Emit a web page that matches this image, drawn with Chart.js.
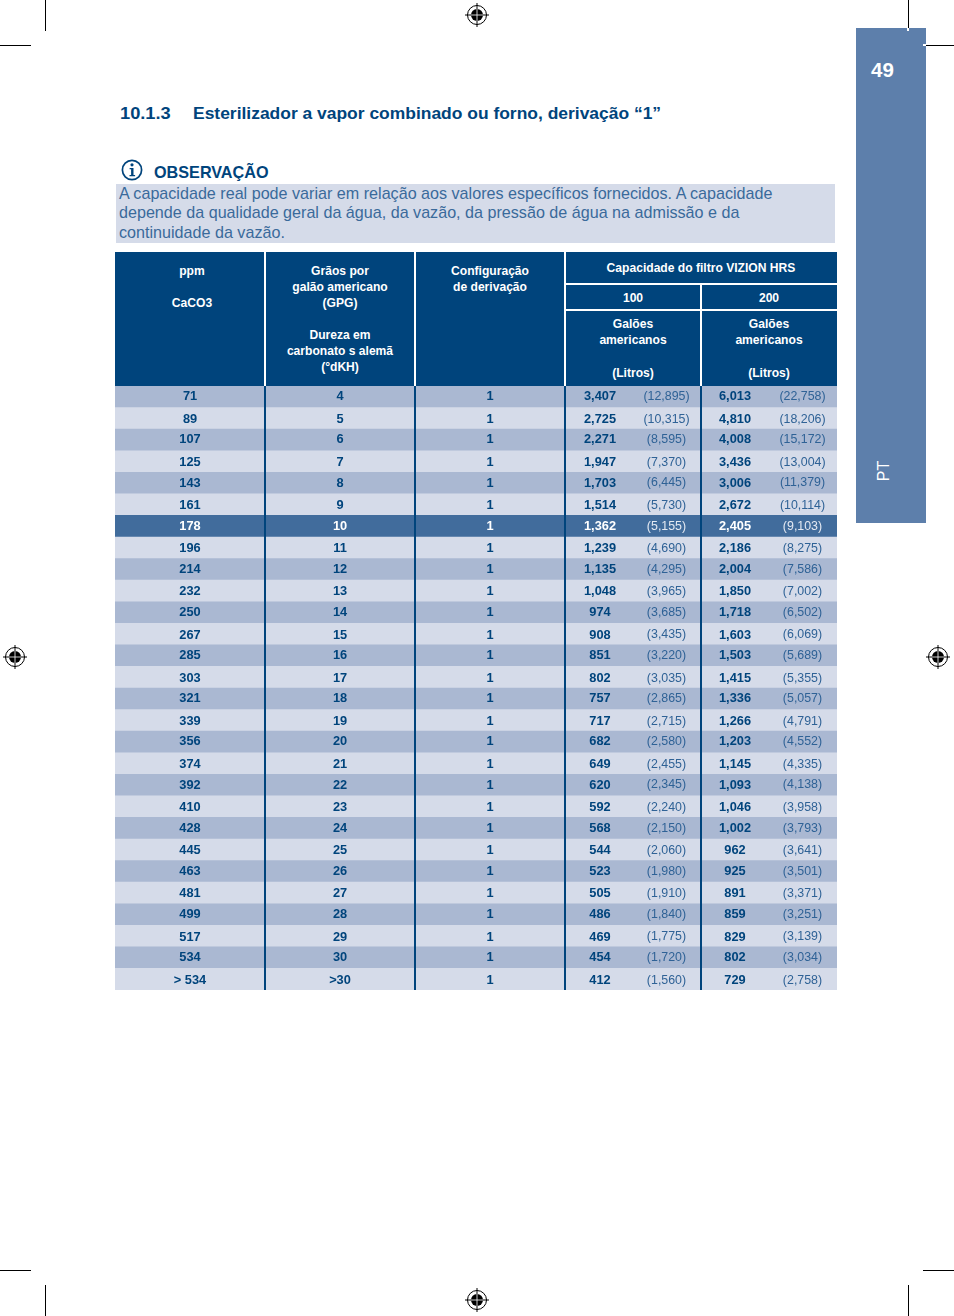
<!DOCTYPE html>
<html lang="pt"><head><meta charset="utf-8">
<script src="https://cdn.jsdelivr.net/npm/chart.js@4"></script>
<style>
html,body{margin:0;padding:0;background:#fff}
body{width:954px;height:1316px;position:relative;overflow:hidden;font-family:"Liberation Sans",Arial,sans-serif}
.a{position:absolute}
.t{position:absolute;white-space:nowrap;line-height:16px}
.h{color:#fff;font-weight:bold;font-size:12.1px;transform:translate(-50%,-50%);margin-top:.7px}
.k{position:absolute;background:#000}
canvas{position:absolute;left:115px;top:386px}
</style></head><body>
<div class="a" style="left:856px;top:28px;width:70px;height:495px;background:#5d7fab"></div>
<div class="a" style="left:907px;top:28px;width:2px;height:3px;background:#fff"></div>
<div class="a" style="left:923px;top:44px;width:3px;height:2px;background:#fff"></div>
<div class="t" style="left:871px;top:60px;line-height:20px;color:#fff;font-weight:bold;font-size:20.5px">49</div>
<div class="t" style="left:884px;top:471px;color:#fff;font-size:16px;transform:translate(-50%,-50%) rotate(-90deg)">PT</div>

<div class="t" style="left:120px;top:106px;color:#00447c;font-weight:bold;font-size:16px;transform-origin:left;transform:scaleX(1.14)">10.1.3</div>
<div class="t" style="left:193px;top:106px;color:#00447c;font-weight:bold;font-size:16px;transform-origin:left;transform:scaleX(1.09)">Esterilizador a vapor combinado ou forno, derivação “1”</div>

<svg class="a" style="left:120px;top:158px" width="24" height="24" viewBox="0 0 24 24">
<circle cx="12" cy="12" r="9.6" fill="none" stroke="#00447c" stroke-width="1.7"/>
<circle cx="12" cy="6.8" r="1.6" fill="#00447c"/>
<path d="M9.6 10h3.9v7h1.6v1.2H9.5V17h1.6v-5.8H9.6z" fill="#00447c"/></svg>
<div class="t" style="left:154px;top:164px;color:#00447c;font-weight:bold;font-size:16.2px">OBSERVAÇÃO</div>
<div class="a" style="left:116px;top:184px;width:719px;height:59px;background:#d5dbe9"></div>
<div class="t" style="left:119px;top:183.5px;color:#3a6a9b;font-size:16.14px;line-height:19.7px">A capacidade real pode variar em relação aos valores específicos fornecidos. A capacidade<br>depende da qualidade geral da água, da vazão, da pressão de água na admissão e da<br>continuidade da vazão.</div>

<div class="a" style="left:115px;top:252px;width:722px;height:134px;background:#00447c"></div>
<div class="a" style="left:264px;top:252px;width:2px;height:134px;background:#fff"></div>
<div class="a" style="left:414px;top:252px;width:2px;height:134px;background:#fff"></div>
<div class="a" style="left:564px;top:252px;width:2px;height:134px;background:#fff"></div>
<div class="a" style="left:700px;top:284px;width:2px;height:102px;background:#fff"></div>
<div class="a" style="left:565px;top:283px;width:272px;height:2px;background:#fff"></div>
<div class="a" style="left:565px;top:309px;width:272px;height:2px;background:#fff"></div>

<div class="t h" style="left:192px;top:270px">ppm</div>
<div class="t h" style="left:192px;top:302px">CaCO3</div>
<div class="t h" style="left:340px;top:270px">Grãos por</div>
<div class="t h" style="left:340px;top:286px">galão americano</div>
<div class="t h" style="left:340px;top:302px">(GPG)</div>
<div class="t h" style="left:340px;top:334px">Dureza em</div>
<div class="t h" style="left:340px;top:350px">carbonato s alemã</div>
<div class="t h" style="left:340px;top:366px">(°dKH)</div>
<div class="t h" style="left:490px;top:270px">Configuração</div>
<div class="t h" style="left:490px;top:286px">de derivação</div>
<div class="t h" style="left:701px;top:267px">Capacidade do filtro VIZION HRS</div>
<div class="t h" style="left:633px;top:297px">100</div>
<div class="t h" style="left:769px;top:297px">200</div>
<div class="t h" style="left:633px;top:323px">Galões</div>
<div class="t h" style="left:633px;top:339px">americanos</div>
<div class="t h" style="left:633px;top:372px">(Litros)</div>
<div class="t h" style="left:769px;top:323px">Galões</div>
<div class="t h" style="left:769px;top:339px">americanos</div>
<div class="t h" style="left:769px;top:372px">(Litros)</div>

<canvas id="c" width="722" height="604"></canvas>

<div class="k" style="left:45px;top:0;width:1px;height:31px"></div>
<div class="k" style="left:0;top:45px;width:31px;height:1px"></div>
<div class="k" style="left:908px;top:0;width:1px;height:28px"></div>
<div class="k" style="left:926px;top:45px;width:28px;height:1px"></div>
<div class="k" style="left:0;top:1270px;width:31px;height:1px"></div>
<div class="k" style="left:923px;top:1270px;width:31px;height:1px"></div>
<div class="k" style="left:45px;top:1285px;width:1px;height:31px"></div>
<div class="k" style="left:908px;top:1285px;width:1px;height:31px"></div>
<svg class="a" style="left:0;top:0" width="954" height="1316">
<defs><g id="m"><circle r="9.5" fill="none" stroke="#000" stroke-width="1"/><circle r="6" fill="#000"/><path d="M-12 0H12M0-12V12" stroke="#000" stroke-width="1"/><path d="M-6 0H6M0-6V6" stroke="#fff" stroke-width=".8"/></g></defs>
<use href="#m" x="477" y="15"/><use href="#m" x="15" y="657"/><use href="#m" x="938" y="657"/><use href="#m" x="477" y="1300"/>
</svg>

<script>
const ppm = ["71","89","107","125","143","161","178","196","214","232","250","267","285","303","321","339","356","374","392","410","428","445","463","481","499","517","534","> 534"];
const gpg = ["4","5","6","7","8","9","10","11","12","13","14","15","16","17","18","19","20","21","22","23","24","25","26","27","28","29","30",">30"];
const bypass = [1,1,1,1,1,1,1,1,1,1,1,1,1,1,1,1,1,1,1,1,1,1,1,1,1,1,1,1];
const gallons100 = [3407,2725,2271,1947,1703,1514,1362,1239,1135,1048,974,908,851,802,757,717,682,649,620,592,568,544,523,505,486,469,454,412];
const litres100 = [12895,10315,8595,7370,6445,5730,5155,4690,4295,3965,3685,3435,3220,3035,2865,2715,2580,2455,2345,2240,2150,2060,1980,1910,1840,1775,1720,1560];
const gallons200 = [6013,4810,4008,3436,3006,2672,2405,2186,2004,1850,1718,1603,1503,1415,1336,1266,1203,1145,1093,1046,1002,962,925,891,859,829,802,729];
const litres200 = [22758,18206,15172,13004,11379,10114,9103,8275,7586,7002,6502,6069,5689,5355,5057,4791,4552,4335,4138,3958,3793,3641,3501,3371,3251,3139,3034,2758];

const NAVY = "#00447c", DARK = "#aab8d2", LIGHT = "#d5dbe9", HILITE = "#416c9c";
const HILITE_ROW = ppm.indexOf("178");
const fmt = n => n.toLocaleString("en-US");

const columns = [
  {x:75,  src:ppm,        bold:true,  f:String},
  {x:225, src:gpg,        bold:true,  f:String},
  {x:375, src:bypass,     bold:true,  f:String},
  {x:485, src:gallons100, bold:true,  f:fmt},
  {x:551.5,src:litres100, bold:false, f:n=>"("+fmt(n)+")"},
  {x:620, src:gallons200, bold:true,  f:fmt},
  {x:687.5,src:litres200, bold:false, f:n=>"("+fmt(n)+")"}
];

const cellText = {
  id:"cellText",
  afterDraw(chart){
    const {ctx,scales:{x,y}} = chart;
    ctx.save();
    ctx.textAlign = "center";
    ctx.textBaseline = "middle";
    columns.forEach(c=>{
      ctx.font = (c.bold?"bold 12.8px":"12.4px")+' "Liberation Sans",Arial,sans-serif';
      c.src.forEach((v,i)=>{
        const hi = i===HILITE_ROW;
        ctx.fillStyle = hi ? (c.bold?"#fff":"#e4e9f2") : (c.bold?NAVY:"#2f6296");
        ctx.fillText(c.f(v), x.getPixelForValue(c.x), y.getPixelForValue(i)+(i%2?1:0));
      });
    });
    ctx.restore();
  }
};

new Chart(document.getElementById("c"),{
  type:"bar",
  data:{labels:ppm,datasets:[{
    label:"Faixa",
    data:ppm.map(()=>722),
    backgroundColor:ppm.map((_,i)=>i===HILITE_ROW?HILITE:(i%2?LIGHT:DARK)),
    barPercentage:1,categoryPercentage:1,borderWidth:0
  }]},
  options:{
    indexAxis:"y",responsive:false,animation:false,
    layout:{padding:0},
    plugins:{legend:{display:false},tooltip:{enabled:false},title:{display:false}},
    scales:{
      x:{type:"linear",min:0,max:722,
        afterBuildTicks(s){s.ticks=[150,300,450,586].map(value=>({value}));},
        border:{display:false},
        ticks:{display:false},
        grid:{color:NAVY,lineWidth:2,drawTicks:false,z:1}},
      y:{type:"category",display:false}
    }
  },
  plugins:[cellText]
});
</script>
</body></html>
